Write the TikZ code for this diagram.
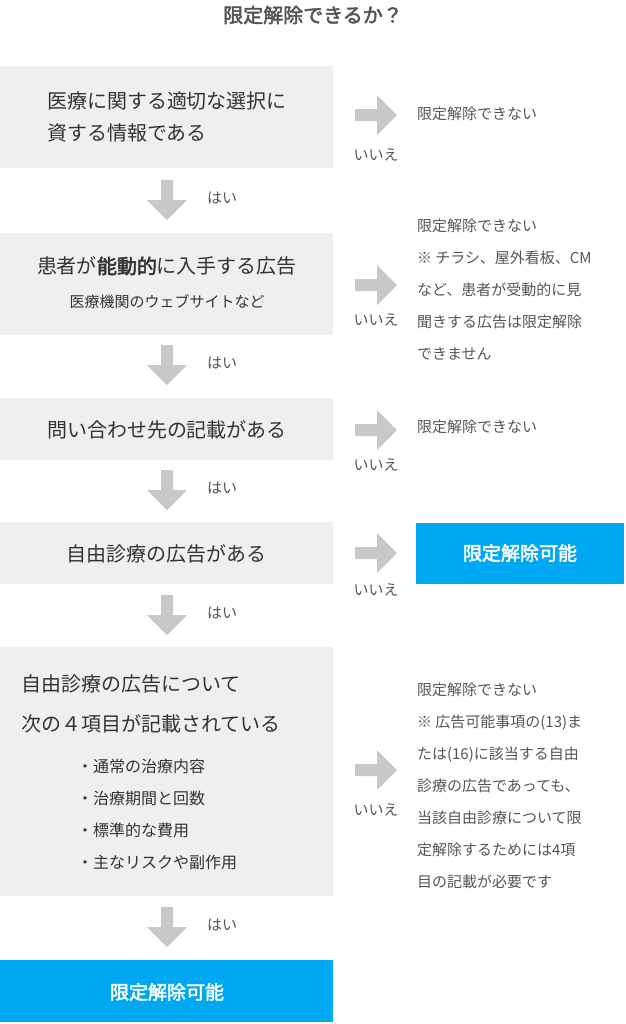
\documentclass[tikz,border=0pt]{standalone}
\usepackage{fontspec}
\setmainfont{Noto Sans CJK JP}[BoldFont={Noto Sans CJK JP},BoldFeatures={FakeBold=2.5}]
\definecolor{boxgray}{HTML}{EFEFEF}
\definecolor{arrgray}{HTML}{C8C8C8}
\definecolor{txtgray}{HTML}{333333}
\definecolor{subgray}{HTML}{555555}
\definecolor{okblue}{HTML}{00A8F4}
\tikzset{
  stepbox/.style={fill=boxgray,draw=none},
  okbox/.style={fill=okblue,draw=none,text=white,font=\bfseries\fontsize{9.5}{11}\selectfont},
  yeslbl/.style={text=subgray,font=\fontsize{7.5}{9}\selectfont},
  notetxt/.style={text=subgray,font=\fontsize{7.5}{16}\selectfont,anchor=north west,align=left},
  pics/downarr/.style={code={\fill[arrgray] (-6,0) -- (6,0) -- (6,20) -- (20,20) -- (0,40) -- (-20,20) -- (-6,20) -- cycle;}},
  pics/rightarr/.style={code={\fill[arrgray] (0,-6) -- (22,-6) -- (22,-20) -- (42,0) -- (22,20) -- (22,6) -- (0,6) -- cycle;}}
}
\begin{document}
\begin{tikzpicture}[x=0.5pt,y=-0.5pt]
\useasboundingbox (0,0) rectangle (626,1024);
\node[text=subgray,font=\bfseries\fontsize{10}{12}\selectfont] (title) at (313,15) {限定解除できるか？};
% left column
\fill[stepbox] (0,66) rectangle (333,168);
\node[text=txtgray,font=\fontsize{10}{16}\selectfont,align=left] (q1) at (167,117) {医療に関する適切な選択に\\資する情報である};
\fill[stepbox] (0,233) rectangle (333,335);
\node[text=txtgray,font=\fontsize{10}{12}\selectfont] (q2) at (167,266) {患者が\textbf{能動的}に入手する広告};
\node[text=txtgray,font=\fontsize{7.5}{9}\selectfont] (q2s) at (167,302) {医療機関のウェブサイトなど};
\fill[stepbox] (0,398) rectangle (333,460);
\node[text=txtgray,font=\fontsize{10}{12}\selectfont] (q3) at (167,430) {問い合わせ先の記載がある};
\fill[stepbox] (0,522) rectangle (333,584);
\node[text=txtgray,font=\fontsize{10}{12}\selectfont] (q4) at (167,554) {自由診療の広告がある};
\fill[stepbox] (0,647) rectangle (333,896);
\node[text=txtgray,font=\fontsize{10}{20}\selectfont,align=left,anchor=north west] (q5) at (14,668) {自由診療の広告について\\次の４項目が記載されている};
\node[text=txtgray,font=\fontsize{8}{16}\selectfont,align=left,anchor=north west] (q5s) at (70,752) {・通常の治療内容\\・治療期間と回数\\・標準的な費用\\・主なリスクや副作用};
\fill[okblue] (0,960) rectangle (333,1022);
\node[okbox] (ok1) at (167,992) {限定解除可能};
% down arrows
\foreach \y in {180,345,470,595,907}
{
  \pic at (167,\y) {downarr};
  \node[yeslbl] at (222,\y+18) {はい};
}
% right arrows
\foreach \y/\n in {115/155,285/320,430/465,553/590,770/810}
{
  \pic at (355,\y) {rightarr};
  \node[yeslbl] at (376,\n) {いいえ};
}
% right column
\node[notetxt] (n1) at (410,100) {限定解除できない};
\node[notetxt] (n2) at (410,212) {限定解除できない\\※ チラシ、屋外看板、CM\\など、患者が受動的に見\\聞きする広告は限定解除\\できません};
\node[notetxt] (n3) at (410,413) {限定解除できない};
\fill[okblue] (416,523) rectangle (624,584);
\node[okbox] (ok2) at (520,553) {限定解除可能};
\node[notetxt] (n5) at (410,676) {限定解除できない\\※ 広告可能事項の(13)ま\\たは(16)に該当する自由\\診療の広告であっても、\\当該自由診療について限\\定解除するためには4項\\目の記載が必要です};
\end{tikzpicture}
\end{document}
